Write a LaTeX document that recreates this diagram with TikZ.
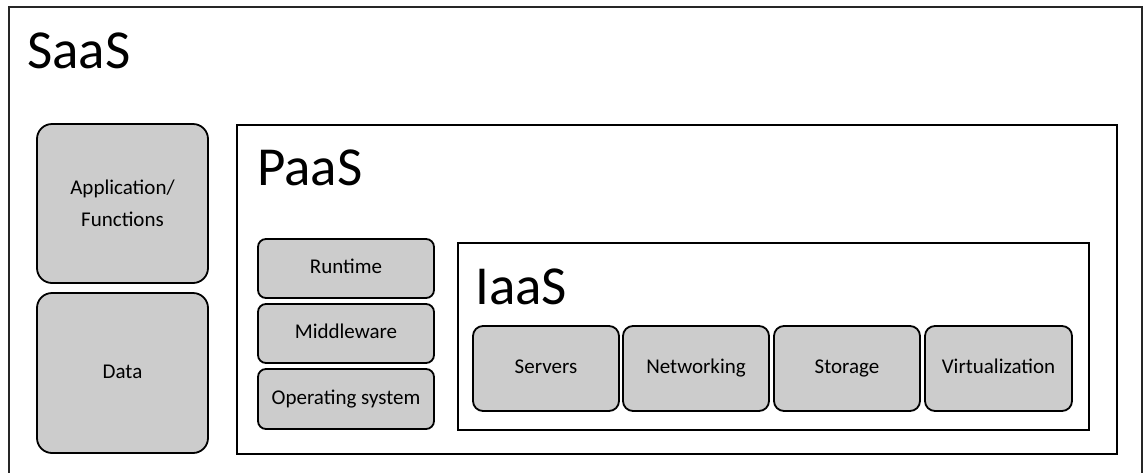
\documentclass[tikz,border=0pt]{standalone}
\usepackage{fontspec}
\setmainfont{Carlito}
\definecolor{boxgray}{HTML}{CCCCCC}
\begin{document}
\begin{tikzpicture}[x=1pt,y=-1pt,
  layer/.style={draw=black, line width=1.8pt, fill=white, inner sep=0pt, anchor=north west},
  gbox/.style={draw=black, line width=1.8pt, fill=boxgray, rounded corners=#1,
    inner sep=0pt, align=center, font=\fontsize{21}{32}\selectfont},
  gbox/.default=10pt,
  oneline/.style={text height=14pt, text depth=4pt},
  title/.style={anchor=base west, inner sep=0pt, font=\fontsize{55}{60}\selectfont}]
\useasboundingbox (0,0) rectangle (1145,472);

% outer SaaS frame (open at the bottom)
\coordinate (sbl) at (9,480);
\coordinate (sbr) at (1142,480);
\draw[line width=1.6pt, draw=black!85] (sbl) |- (1142,7) -- (sbr);
\node[title] (saas) at (27,68) {SaaS};

% SaaS-only layers
\node[gbox=15pt, minimum width=171pt, minimum height=159pt] (app) at (122.5,203.5) {Application/\\Functions};
\node[gbox=15pt, oneline, minimum width=171pt, minimum height=160pt] (data) at (122.5,373) {Data};

% PaaS frame
\node[layer, minimum width=880pt, minimum height=329pt] (paas) at (236,124) {};
\node[title] (paastitle) at (257,185) {PaaS};

\node[gbox=8pt, oneline, minimum width=176pt, minimum height=59pt] (runtime) at (346,268.5) {Runtime};
\node[gbox=8pt, oneline, minimum width=176pt, minimum height=59pt] (middleware) at (346,333.5) {Middleware};
\node[gbox=8pt, oneline, minimum width=176pt, minimum height=60pt] (os) at (346,399) {Operating system};

% IaaS frame
\node[layer, minimum width=631pt, minimum height=187pt] (iaas) at (457,242) {};
\node[title] (iaastitle) at (475,304) {IaaS};

\node[gbox, oneline, minimum width=146pt, minimum height=85pt] (servers) at (546,368.5) {Servers};
\node[gbox, oneline, minimum width=146pt, minimum height=85pt] (networking) at (696,368.5) {Networking};
\node[gbox, oneline, minimum width=146pt, minimum height=85pt] (storage) at (847,368.5) {Storage};
\node[gbox, oneline, minimum width=147pt, minimum height=85pt] (virt) at (998.5,368.5) {Virtualization};
\end{tikzpicture}
\end{document}
